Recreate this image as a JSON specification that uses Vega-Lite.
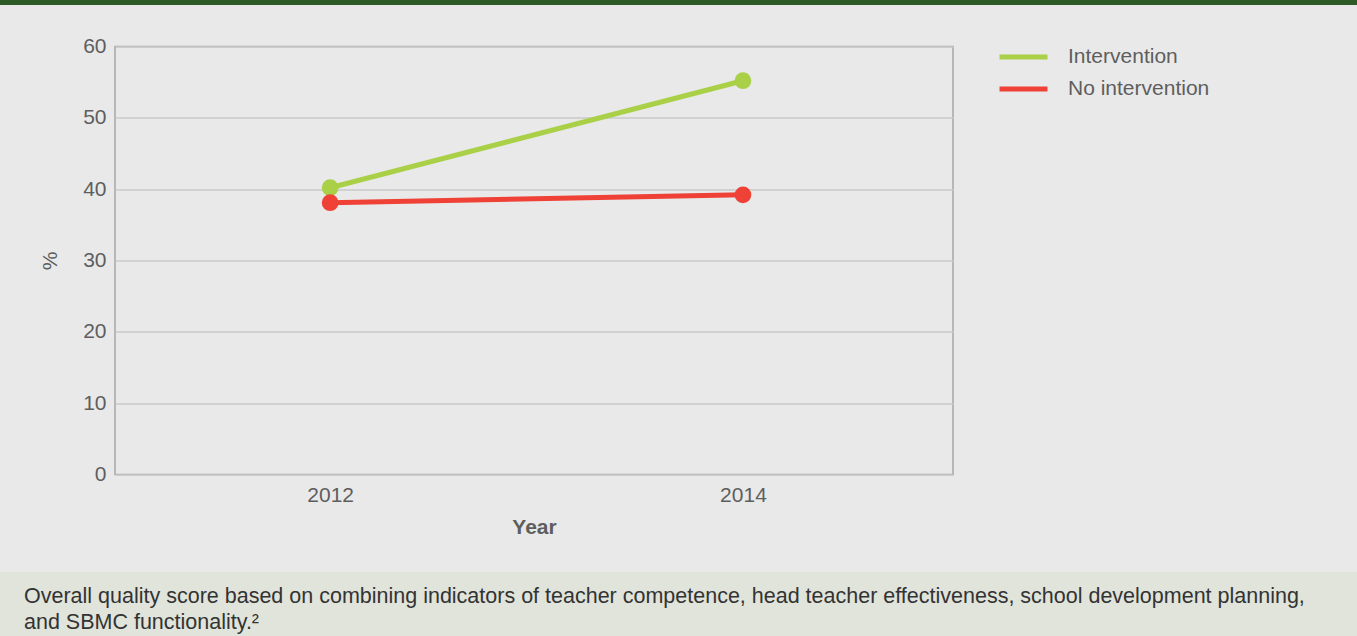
{
  "$schema": "https://vega.github.io/schema/vega-lite/v6.json",
  "background": "#e9e9e9",
  "padding": 0,
  "spacing": 29.5,
  "config": {
    "font": "Liberation Sans",
    "view": {"stroke": "#a6a6a6", "strokeWidth": 1.5}
  },
  "resolve": {"scale": {"color": "independent"}, "legend": {"color": "independent"}},
  "vconcat": [
    {
      "width": 1357,
      "height": 5,
      "data": {"values": []},
      "mark": "rect",
      "view": {"fill": "#2d5a27", "stroke": null}
    },
    {
      "spacing": 0,
      "resolve": {"scale": {"color": "independent"}, "legend": {"color": "independent"}},
      "hconcat": [
        {
          "width": 38,
          "height": 496,
          "data": {"values": []},
          "mark": "point",
          "view": {"stroke": null}
        },
        {
          "width": 838,
          "height": 428,
          "data": {
            "values": [
              {"Year": "2012", "Group": "Intervention", "Percent": 40.2},
              {"Year": "2014", "Group": "Intervention", "Percent": 55.2},
              {"Year": "2012", "Group": "No intervention", "Percent": 38.1},
              {"Year": "2014", "Group": "No intervention", "Percent": 39.2}
            ]
          },
          "encoding": {
            "x": {
              "field": "Year",
              "type": "ordinal",
              "scale": {"type": "point", "padding": 0.515, "align": 0.506},
              "axis": {
                "title": "Year",
                "labelAngle": 0,
                "domain": false,
                "ticks": false,
                "labelFontSize": 21,
                "labelColor": "#5e5e5e",
                "labelPadding": 10,
                "titleFontSize": 21,
                "titleFontWeight": "bold",
                "titleColor": "#5e5e5e",
                "titlePadding": 11
              }
            },
            "y": {
              "field": "Percent",
              "type": "quantitative",
              "scale": {"domain": [0, 60], "nice": false},
              "axis": {
                "title": "%",
                "values": [0, 10, 20, 30, 40, 50, 60],
                "domain": false,
                "ticks": false,
                "gridColor": "#c8c8c8",
                "gridWidth": 1.5,
                "labelFontSize": 21,
                "labelColor": "#5e5e5e",
                "labelPadding": 9,
                "titleFontSize": 21,
                "titleFontWeight": "normal",
                "titleColor": "#5e5e5e",
                "titlePadding": 22
              }
            },
            "color": {
              "field": "Group",
              "type": "nominal",
              "scale": {
                "domain": ["Intervention", "No intervention"],
                "range": ["#a9d046", "#ef4136"]
              },
              "legend": {
                "title": null,
                "orient": "right",
                "offset": 44,
                "symbolType": "stroke",
                "symbolSize": 2300,
                "symbolStrokeWidth": 5,
                "clipHeight": 21,
                "labelFontSize": 21,
                "labelColor": "#5e5e5e",
                "labelOffset": 18,
                "rowPadding": 10
              }
            }
          },
          "layer": [
            {"mark": {"type": "line", "strokeWidth": 5}},
            {"mark": {"type": "point", "filled": true, "opacity": 1, "size": 280}}
          ]
        }
      ]
    },
    {
      "width": 1357,
      "height": 64,
      "data": {"values": []},
      "mark": "rect",
      "view": {"fill": "#e1e4da", "stroke": null},
      "title": {
        "text": [
          "Overall quality score based on combining indicators of teacher competence, head teacher effectiveness, school development planning,",
          "and SBMC functionality.²"
        ],
        "orient": "top",
        "anchor": "start",
        "frame": "group",
        "offset": -61,
        "dx": 24,
        "fontSize": 21.5,
        "fontWeight": "normal",
        "color": "#333333",
        "lineHeight": 26
      }
    }
  ]
}
